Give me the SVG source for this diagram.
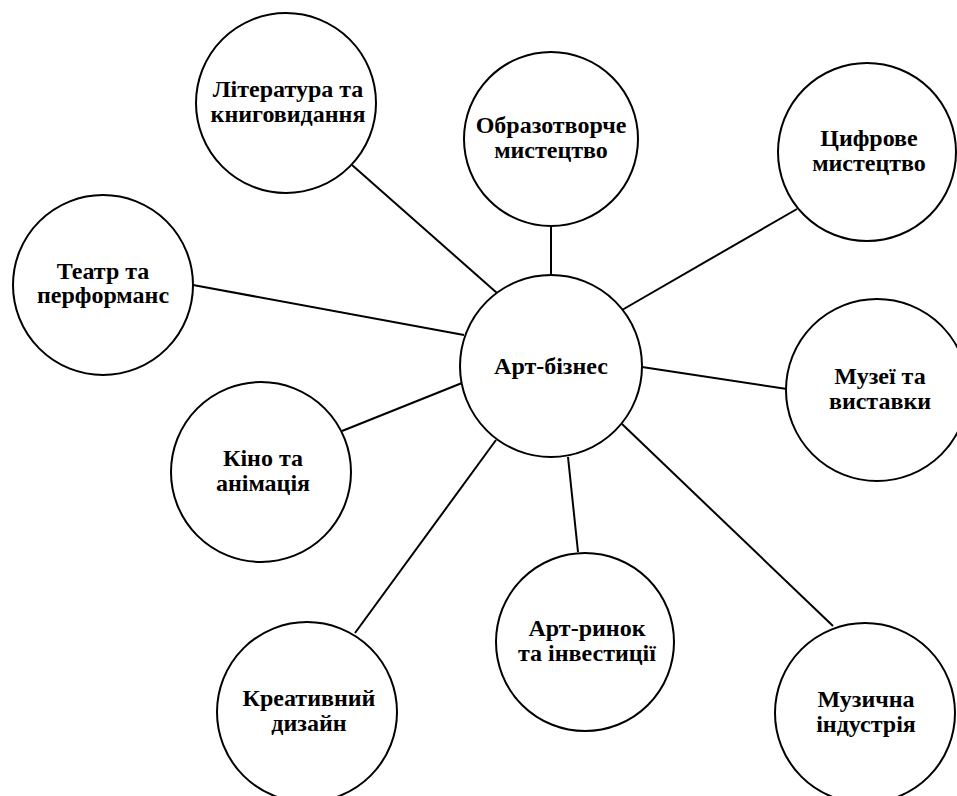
<svg xmlns="http://www.w3.org/2000/svg" width="957" height="796" viewBox="0 0 957 796">
<style>
.n circle{fill:#fff;stroke:#000;stroke-width:2}
.n text{font-family:"Liberation Serif","Times New Roman",serif;font-weight:bold;font-size:24px;text-anchor:middle;fill:#000}
.c line{stroke:#000;stroke-width:2}
</style>
<rect width="957" height="796" fill="#fff"/>
<g class="c" id="connectors">
<line x1="352" y1="165" x2="497" y2="293"/>
<line x1="551" y1="225" x2="551" y2="275"/>
<line x1="797" y1="209" x2="622" y2="310"/>
<line x1="193" y1="285" x2="464" y2="335"/>
<line x1="642" y1="367" x2="787" y2="389"/>
<line x1="462" y1="383" x2="342" y2="431"/>
<line x1="496" y1="440" x2="355" y2="633"/>
<line x1="568" y1="457" x2="578" y2="552"/>
<line x1="622" y1="424" x2="833" y2="626"/>
</g>
<g class="n" id="center"><circle cx="551" cy="366" r="91"/><text x="551" y="374">Арт-бізнес</text></g>
<g class="n" id="literature"><circle cx="286" cy="103" r="90"/><text x="288" y="97">Література та</text><text x="288" y="122">книговидання</text></g>
<g class="n" id="fineart"><circle cx="551" cy="139" r="87"/><text x="551" y="133">Образотворче</text><text x="551" y="158">мистецтво</text></g>
<g class="n" id="digital"><circle cx="867" cy="152" r="89"/><text x="869" y="146">Цифрове</text><text x="869" y="171">мистецтво</text></g>
<g class="n" id="theatre"><circle cx="103" cy="285" r="90"/><text x="103" y="279">Театр та</text><text x="103" y="303">перформанс</text></g>
<g class="n" id="museums"><circle cx="877" cy="390" r="91"/><text x="880" y="384">Музеї та</text><text x="880" y="409">виставки</text></g>
<g class="n" id="cinema"><circle cx="261" cy="472" r="90"/><text x="263" y="466">Кіно та</text><text x="263" y="491">анімація</text></g>
<g class="n" id="artmarket"><circle cx="585" cy="642" r="89"/><text x="587" y="636">Арт-ринок</text><text x="587" y="661">та інвестиції</text></g>
<g class="n" id="design"><circle cx="307" cy="712" r="90"/><text x="309" y="706">Креативний</text><text x="309" y="731">дизайн</text></g>
<g class="n" id="music"><circle cx="865" cy="713" r="90"/><text x="866" y="707">Музична</text><text x="866" y="732">індустрія</text></g>
</svg>
